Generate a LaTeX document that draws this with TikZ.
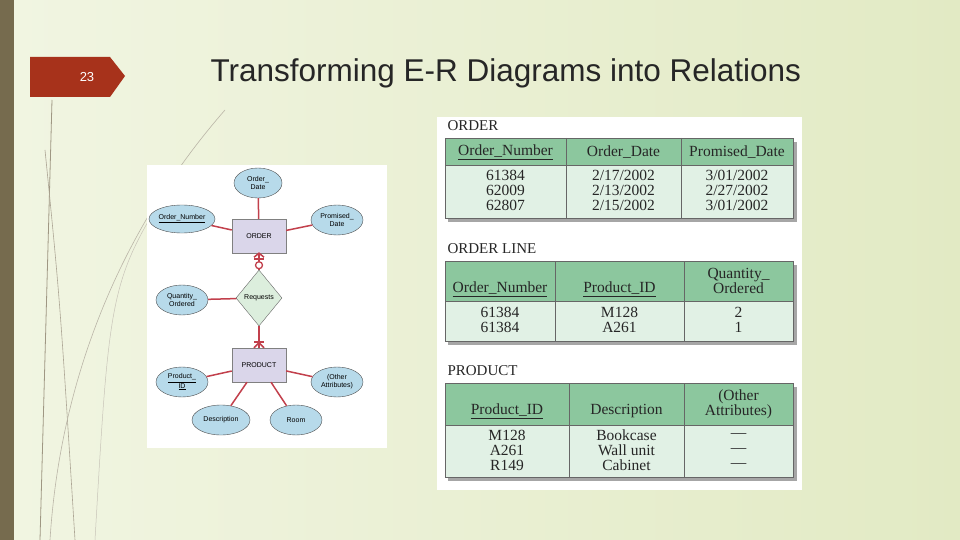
\documentclass[tikz,border=0pt]{standalone}
\usepackage{fontspec}
\setmainfont{Liberation Serif}
\newfontfamily\sansf{Liberation Sans}
\usetikzlibrary{shapes.geometric,positioning,calc}
\definecolor{bgleft}{HTML}{F1F5E2}
\definecolor{bgright}{HTML}{E2EAC4}
\definecolor{strip}{HTML}{766B4E}
\definecolor{tabred}{HTML}{A7321B}
\definecolor{erline}{HTML}{C2404C}
\definecolor{attrfill}{HTML}{B7DAEA}
\definecolor{entfill}{HTML}{DAD6EA}
\definecolor{relfill}{HTML}{DCEEDD}
\definecolor{headfill}{HTML}{8CC79E}
\definecolor{bodyfill}{HTML}{E1F1E5}

\tikzset{
  attr/.style={ellipse, draw=black!70, fill=attrfill, minimum width=52pt,
    minimum height=30pt, inner sep=0pt, align=center, font=\sansf\fontsize{7}{8}\selectfont},
  ent/.style={rectangle, draw=black!50, fill=entfill, minimum width=54pt,
    minimum height=34pt, font=\sansf\fontsize{7}{8}\selectfont},
  rel/.style={diamond, draw=black!60, fill=relfill, minimum width=46pt,
    minimum height=56pt, inner sep=0pt, font=\sansf\fontsize{7}{8}\selectfont},
  link/.style={draw=erline, line width=1.5pt},
  cell/.style={draw=black!60, line width=0.6pt},
  txt/.style={font=\fontsize{15.5}{15}\selectfont, text=black!85, align=center},
  tlabel/.style={anchor=west, font=\fontsize{15}{15}\selectfont, text=black!85},
}

\begin{document}
\begin{tikzpicture}[x=1pt,y=-1pt]
  % background
  \shade[left color=bgleft, right color=bgright] (0,0) rectangle (960,540);
  \useasboundingbox (0,0) rectangle (960,540);
  \fill[strip] (0,0) rectangle (14,540);
  \draw[strip!70, line width=0.8pt] (52,100) -- (40,540);
  \draw[strip!60, line width=0.6pt] (45,150) .. controls (60,300) .. (75,540);
  \draw[strip!50, line width=0.6pt] (225,110) .. controls (120,230) and (60,380) .. (50,540);
  \draw[strip!40, line width=0.5pt] (180,170) .. controls (110,280) .. (95,540);

  % slide number and title
  \fill[tabred] (30,57) -- (110,57) -- (125,76) -- (110,97) -- (30,97) -- cycle;
  \node[text=white, font=\sansf\fontsize{13}{14}\selectfont] (num) at (87,77) {23};
  \node[anchor=west, font=\sansf\fontsize{31.5}{34}\selectfont, text=black!85] (title) at (207,73)
    {Transforming E-R Diagrams into Relations};

  % E-R diagram
  \fill[white] (147,165) rectangle (387,448);
  \node[ent] (order) at (259,236) {ORDER};
  \node[rel] (req) at (259,298) {Requests};
  \node[ent] (product) at (259,365) {PRODUCT};
  \node[attr, minimum width=48pt] (odate) at (258,183) {Order\_\\Date};
  \node[attr, minimum width=56pt, minimum height=28pt] (onum) at (182,219) {\underline{Order\_Number}};
  \node[attr] (pdate) at (337,220) {Promised\_\\Date};
  \node[attr] (qty) at (182,300) {Quantity\_\\Ordered};
  \node[attr] (pid) at (182,382) {\underline{Product\_}\\\underline{ID}};
  \node[attr] (other) at (337,382) {(Other\\Attributes)};
  \node[attr, minimum width=58pt] (desc) at (221,420) {Description};
  \node[attr] (room) at (296,420) {Room};
  \draw[link] (odate) -- (order);
  \draw[link] (onum) -- (order);
  \draw[link] (pdate) -- (order);
  \draw[link] (qty) -- (req);
  \draw[link] (order) -- (req);
  \draw[link] (req) -- (product);
  \draw[link] (pid) -- (product);
  \draw[link] (other) -- (product);
  \draw[link] (desc) -- ([xshift=-12pt]product.south);
  \draw[link] (room) -- ([xshift=12pt]product.south);
  \draw[link] (order.south) +(-5,6) -- +(5,6);
  \draw[link] (order.south) +(-5,4) -- +(0,0) -- +(5,4);
  \draw[erline, line width=1.3pt, fill=white] ($(order.south)+(0,12)$) circle (3.5pt);
  \draw[link] (product.north) +(-5,-6) -- +(5,-6);
  \draw[link] (product.north) +(-5,0) -- +(0,-5) -- +(5,0);

  % relations
  \fill[white] (437,117) rectangle (802,490);
  \foreach \ya/\yc in {138/218, 261/341, 383/477}
    \fill[black!35] (448,\ya+4) rectangle (797,\yc+4);

  % ORDER
  \node[tlabel] (lblorder) at (444,126) {ORDER};
  \fill[headfill] (445,138) rectangle (793,165);
  \fill[bodyfill] (445,165) rectangle (793,218);
  \draw[cell] (445,138) rectangle (793,218) (445,165) -- (793,165)
    (566,138) -- (566,218) (681,138) -- (681,218);
  \node[txt] (o1) at (505.5,152) {\underline{Order\_Number}};
  \node[txt] (o2) at (623.5,152) {Order\_Date};
  \node[txt] (o3) at (737,152) {Promised\_Date};
  \node[txt] (o4) at (505.5,190) {61384\\62009\\62807};
  \node[txt] (o5) at (623.5,190) {2/17/2002\\2/13/2002\\2/15/2002};
  \node[txt] (o6) at (737,190) {3/01/2002\\2/27/2002\\3/01/2002};

  % ORDER LINE
  \node[tlabel] (lblline) at (444,249) {ORDER LINE};
  \fill[headfill] (445,261) rectangle (793,301);
  \fill[bodyfill] (445,301) rectangle (793,341);
  \draw[cell] (445,261) rectangle (793,341) (445,301) -- (793,301)
    (555,261) -- (555,341) (684,261) -- (684,341);
  \node[txt] (l1) at (500,289) {\underline{Order\_Number}};
  \node[txt] (l2) at (619.5,289) {\underline{Product\_ID}};
  \node[txt] (l3) at (738.5,281) {Quantity\_\\Ordered};
  \node[txt] (l4) at (500,320) {61384\\61384};
  \node[txt] (l5) at (619.5,320) {M128\\A261};
  \node[txt] (l6) at (738.5,320) {2\\1};

  % PRODUCT
  \node[tlabel] (lblprod) at (444,371) {PRODUCT};
  \fill[headfill] (445,383) rectangle (793,425);
  \fill[bodyfill] (445,425) rectangle (793,477);
  \draw[cell] (445,383) rectangle (793,477) (445,425) -- (793,425)
    (569,383) -- (569,477) (684,383) -- (684,477);
  \node[txt] (p1) at (507,411) {\underline{Product\_ID}};
  \node[txt] (p2) at (626.5,411) {Description};
  \node[txt] (p3) at (738.5,404) {(Other\\Attributes)};
  \node[txt] (p4) at (507,450) {M128\\A261\\R149};
  \node[txt] (p5) at (626.5,450) {Bookcase\\Wall unit\\Cabinet};
  \node[txt] (p6) at (738.5,450) {---\\---\\---};
\end{tikzpicture}
\end{document}
